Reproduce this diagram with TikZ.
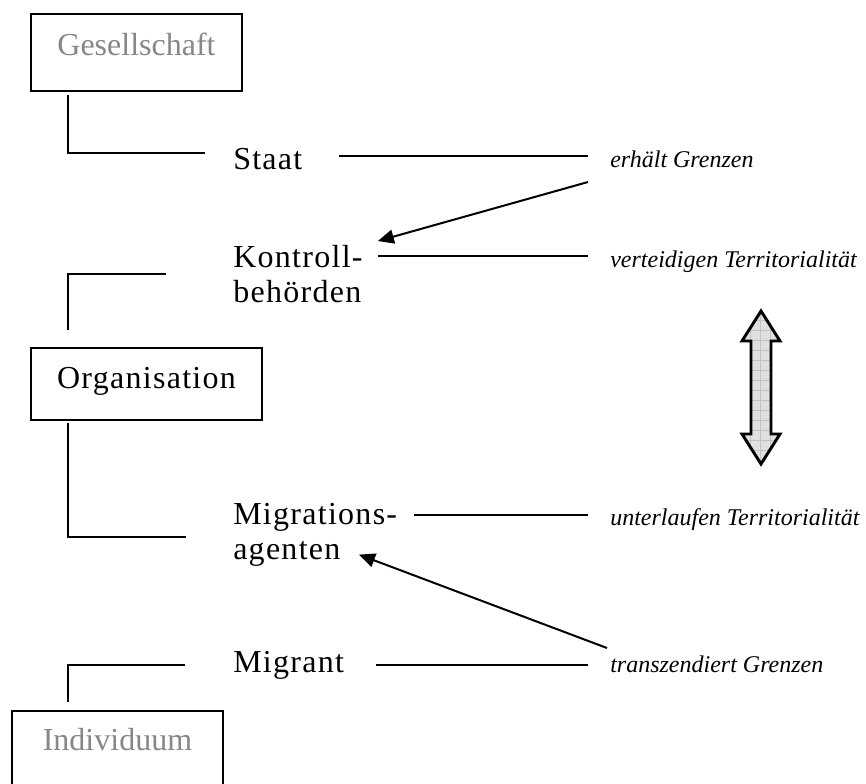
\documentclass[tikz,border=0pt]{standalone}
\usepackage{fontspec}
\setmainfont{Liberation Serif}
\newfontfamily\spacedfont[LetterSpace=4]{Liberation Serif}
\usepackage{tikz}
\usetikzlibrary{arrows.meta}
\usetikzlibrary{calc}

\tikzset{
  level/.style={draw, line width=1.5pt, inner sep=0pt, text=black!47,
    font=\fontsize{24}{26.25}\selectfont},
  orgbox/.style={draw, line width=1.5pt, inner sep=0pt,
    font=\spacedfont\fontsize{24}{26.25}\selectfont},
  actor/.style={inner sep=0pt, align=left,
    font=\spacedfont\fontsize{24}{26.25}\selectfont},
  act/.style={inner sep=0pt, font=\itshape\fontsize{18}{21}\selectfont},
  link/.style={line width=1.5pt},
  push/.style={line width=1.5pt, -{Triangle[length=12pt,width=10.5pt]}}
}

\begin{document}
\begin{tikzpicture}[x=0.75pt,y=0.75pt,yscale=-1,xscale=1]

\useasboundingbox (0,0) rectangle (866,783);
\clip (0,0) rectangle (866,783);

\node [level, minimum width=158.25pt, text height=30.75pt, text depth=27pt, anchor=base] (ges) at (136.5,55) {Gesellschaft};
\node [orgbox, minimum width=173.25pt, text height=30pt, text depth=24pt, anchor=base] (org) at (146.5,388) {Organisation};
\node [level, minimum width=158.25pt, text height=29.25pt, text depth=30pt, anchor=base] (ind) at (117.5,750) {Individuum};

\node [actor, anchor=base west] (staat) at (233,169) {Staat};
\node [actor, anchor=north west] (kon) at (233,245) {Kontroll-\\behörden};
\node [actor, anchor=north west] (mig) at (233,503) {Migrations-\\agenten};
\node [actor, anchor=base west] (migr) at (233,672) {Migrant};

\node [act, anchor=base west] (erh) at (610,167) {erhält Grenzen};
\node [act, anchor=base west] (ver) at (610,267) {verteidigen Territorialität};
\node [act, anchor=base west] (unt) at (610,525) {unterlaufen Territorialität};
\node [act, anchor=base west] (tra) at (610,672) {transzendiert Grenzen};

\draw [link] ($(ges.south west)+(38,3)$) |- ($(staat.base west)+(-28,-16)$);
\draw [link] ($(org.north west)+(38,-17)$) |- ($(kon.north west)+(-67,29)$);
\draw [link] ($(org.south west)+(38,2)$) |- ($(mig.north west)+(-47,34)$);
\draw [link] ($(ind.north west)+(57,-8)$) |- ($(migr.base west)+(-48,-7)$);

\draw [link] ($(staat.base east)+(36,-13)$) -- ($(erh.base west)+(-22,-11)$);
\draw [link] ($(kon.north east)+(15,11)$) -- ($(ver.base west)+(-22,-11)$);
\draw [link] ($(mig.north east)+(17,12)$) -- ($(unt.base west)+(-22,-10)$);
\draw [link] ($(migr.base east)+(32,-7)$) -- ($(tra.base west)+(-22,-7)$);

\draw [push] ($(erh.base west)+(-22,15)$) -- ($(kon.north east)+(15,-4)$);
\draw [push] ($(tra.base west)+(-3,-24)$) -- ($(mig.south west)+(126,-12)$);

\begin{scope}
\clip (761,311) -- (780,341) -- (771,341) -- (771,434) -- (780,434) -- (761,464) -- (742,434) -- (751,434) -- (751,341) -- (742,341) -- cycle;
\fill [black!12] (740,310) rectangle (782,466);
\draw [black!24, line width=0.4pt, step=7.5pt] (740,310) grid (782,466);
\end{scope}
\draw [line width=2.2pt, line join=miter] (761,311) -- (780,341) -- (771,341) -- (771,434) -- (780,434) -- (761,464) -- (742,434) -- (751,434) -- (751,341) -- (742,341) -- cycle;

\end{tikzpicture}
\end{document}
